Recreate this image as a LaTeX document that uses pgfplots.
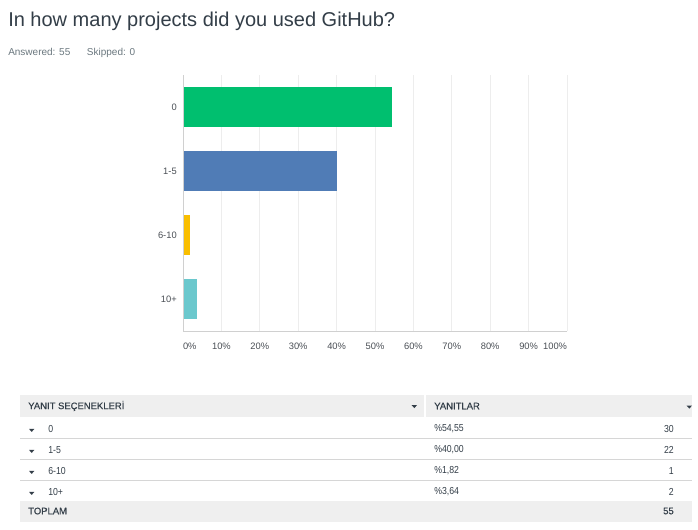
\documentclass[border=0pt]{standalone}
\usepackage{fontspec}
\setmainfont{Liberation Sans}
\newfontfamily\tfont[FakeStretch=0.86]{Liberation Sans}
\newfontfamily\hfont[FakeBold=0.4]{Liberation Sans}
\usepackage{pgfplots}
\pgfplotsset{compat=1.18}
\definecolor{cgreen}{HTML}{00BF6F}
\definecolor{cblue}{HTML}{507CB6}
\definecolor{cyellow}{HTML}{F9BE00}
\definecolor{cteal}{HTML}{6BC8CD}
\definecolor{txt}{HTML}{333E48}
\definecolor{sub}{HTML}{6B787F}
\definecolor{ticktxt}{HTML}{4A4F55}
\definecolor{axisgray}{HTML}{D0D0D0}
\definecolor{gridgray}{HTML}{EDEDED}
\definecolor{rowbg}{HTML}{EFEFEF}
\definecolor{sepgray}{HTML}{D6D6D6}
\tikzset{rowtxt/.style={inner sep=0, text=txt, font=\tfont\fontsize{7.6}{8}\selectfont},
         hdrtxt/.style={inner sep=0, text=txt, font=\hfont\fontsize{7.1}{8}\selectfont}}
\begin{document}
\begin{tikzpicture}
\begin{scope}[x=0.75pt,y=-0.75pt]
\fill[white] (0,0) rectangle (698,529);
\node[anchor=base west, inner sep=0, text=txt, font=\fontsize{15}{18}\selectfont] at (8,26.7) {In how many projects did you used GitHub?};
\node[anchor=base west, inner sep=0, text=sub, font=\fontsize{7.5}{9}\selectfont] at (8,55) {Answered: 55};
\node[anchor=base west, inner sep=0, text=sub, font=\fontsize{7.5}{9}\selectfont] at (86.7,55) {Skipped: 0};
% table
\fill[rowbg] (20,395) rectangle (692,417);
\draw[white, line width=1.5pt] (425,395) -- (425,417);
\fill[rowbg] (20,501) rectangle (692,522);
\draw[sepgray, line width=0.75pt] (20,438.5) -- (692,438.5);
\draw[sepgray, line width=0.75pt] (20,459.5) -- (692,459.5);
\draw[sepgray, line width=0.75pt] (20,480.5) -- (692,480.5);
\node[anchor=west, hdrtxt] at (28,406) {YANIT SEÇENEKLERİ};
\node[anchor=west, hdrtxt] at (434,406) {YANITLAR};
\node[anchor=west, hdrtxt] at (28,511) {TOPLAM};
\node[anchor=east, hdrtxt] at (674,511) {55};
\foreach \xx/\yy in {414.3/406.5,689.3/407,31.7/430.3,31.7/451.3,31.7/472.3,31.7/493.3}
  \fill[txt] (\xx-2.7,\yy-1.4) -- (\xx+2.7,\yy-1.4) -- (\xx,\yy+1.6) -- cycle;
\node[anchor=west, rowtxt] at (48,428.7) {0};
\node[anchor=west, rowtxt] at (48,450) {1-5};
\node[anchor=west, rowtxt] at (48,471) {6-10};
\node[anchor=west, rowtxt] at (48,492) {10+};
\node[anchor=west, rowtxt] at (434,428.7) {\%54,55};
\node[anchor=west, rowtxt] at (434,450) {\%40,00};
\node[anchor=west, rowtxt] at (434,471) {\%1,82};
\node[anchor=west, rowtxt] at (434,492) {\%3,64};
\node[anchor=east, rowtxt] at (674,428.7) {30};
\node[anchor=east, rowtxt] at (674,450) {22};
\node[anchor=east, rowtxt] at (674,471) {1};
\node[anchor=east, rowtxt] at (674,492) {2};
\end{scope}
\begin{axis}[at={(137.25pt,-248.25pt)}, anchor=south west, scale only axis,
  width=288pt, height=192pt,
  xmin=0, xmax=100, ymin=-0.5, ymax=3.5,
  xbar, bar width=30pt, bar shift=0pt,
  axis line style={draw=none},
  xmajorgrids, grid style={draw=gridgray, line width=0.75pt},
  xtick={0,10,...,100},
  xticklabels={\makebox[0pt][l]{0\%},10\%,20\%,30\%,40\%,50\%,60\%,70\%,80\%,90\%,\makebox[0pt][r]{100\%}},
  ytick={0,1,2,3}, yticklabels={10+,6-10,1-5,0},
  major tick length=0pt,
  tick label style={font=\fontsize{7}{8}\selectfont, text=ticktxt, inner sep=0pt},
  xticklabel style={anchor=north, yshift=-8.6pt},
  yticklabel style={anchor=east, xshift=-4.5pt},
  clip=false]
\addplot[fill=cgreen, draw=none] coordinates {(54.55,3)};
\addplot[fill=cblue, draw=none] coordinates {(40.00,2)};
\addplot[fill=cyellow, draw=none] coordinates {(1.82,1)};
\addplot[fill=cteal, draw=none] coordinates {(3.64,0)};
\draw[axisgray, line width=0.75pt] (rel axis cs:0,1) -- (rel axis cs:0,0) -- (rel axis cs:1,0);
\end{axis}
\end{tikzpicture}
\end{document}
